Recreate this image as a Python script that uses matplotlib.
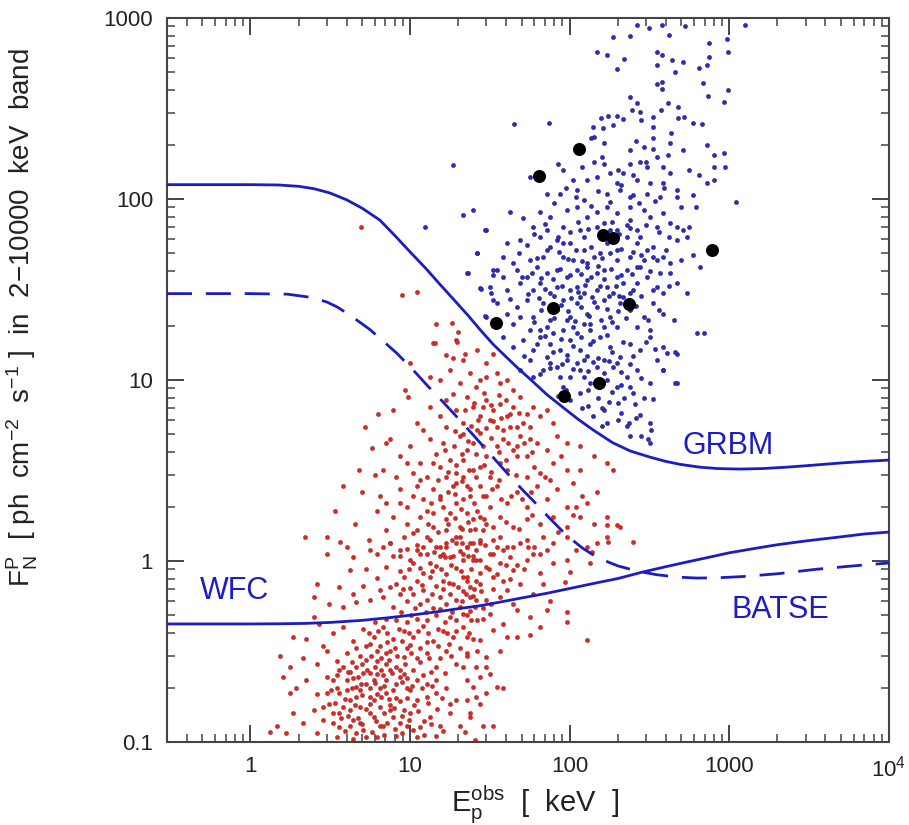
import matplotlib

matplotlib.use("Agg")

import matplotlib.pyplot as plt
import numpy as np
from matplotlib.ticker import FixedLocator, NullFormatter

plt.rcParams["font.family"] = ["Liberation Sans", "DejaVu Sans"]
plt.rcParams["mathtext.default"] = "regular"

# detection threshold curves
grbm_x = [0.3, 1.0, 1.5, 2.0, 2.5, 3.14, 4.0, 5.0, 6.46, 8.0, 10, 12.5, 15.5, 19, 23, 27.4, 33, 40,
          48, 58, 72, 90, 112, 140, 186, 240, 318, 400, 490, 650, 850, 1167, 1600, 2300, 3300,
          5000, 7000, 10000]
grbm_y = [120, 120, 119.5, 117.5, 114, 108, 99, 89, 76.5, 63, 51, 41.5, 33.5, 27.5, 22.8, 19.0,
          15.8, 13.4, 11.5, 9.9, 8.3, 7.1, 6.1, 5.3, 4.5, 4.05, 3.75, 3.55, 3.42, 3.3, 3.24, 3.22,
          3.24, 3.3, 3.38, 3.48, 3.55, 3.61]

batse_x = [0.3, 1.0, 1.7, 2.4, 3.0, 3.5, 4.3, 5.6, 7.0, 8.3, 10.5, 13, 16, 20.5, 26, 33, 40.5, 50,
           60, 75, 96, 120, 150, 200, 264, 350, 470, 627, 850, 1200, 2000, 3500, 6000, 10000]
batse_y = [30, 30, 29.8, 28.6, 27, 25.3, 22.5, 19.0, 16.0, 14.0, 11.3, 9.2, 7.6, 6.0, 4.75, 3.75,
           3.06, 2.5, 2.12, 1.72, 1.38, 1.18, 1.04, 0.94, 0.88, 0.84, 0.815, 0.805, 0.808, 0.82,
           0.85, 0.9, 0.94, 0.975]

wfc_x = [0.3, 1.0, 1.5, 2.2, 3.2, 5, 7.5, 10.3, 15, 20, 27.4, 35.5, 50, 70, 100, 150, 200, 288,
         400, 550, 750, 1000, 1500, 2000, 3000, 5000, 7000, 10000]
wfc_y = [0.449, 0.449, 0.45, 0.452, 0.458, 0.47, 0.487, 0.503, 0.525, 0.545, 0.566, 0.59, 0.625,
         0.66, 0.705, 0.76, 0.8, 0.87, 0.93, 0.99, 1.05, 1.11, 1.18, 1.23, 1.29, 1.36, 1.41, 1.445]

# bursts detected in both instruments
black_x = [34.5, 64, 114, 78.5, 161, 186, 778, 235, 152, 92]
black_y = [20.6, 134, 189, 25, 63, 61, 52, 26.3, 9.6, 8.2]

# bursts below the GRBM threshold (red)
red_pts = [
    (3.63, 1.28), (5.6, 1.15), (3.0, 1.1), (6.8, 1.19), (7.8, 1.06), (9.5, 1.16), (11, 1.23), (12.7, 1.1),
    (14.6, 1.2), (17.8, 1.05), (20.5, 1.14), (23.7, 1.26), (26, 1.01), (7.1, 0.93), (8.6, 0.88), (10.5, 0.97),
    (12.1, 0.86), (14.6, 0.94), (16.9, 0.85), (19.5, 0.92), (22.6, 0.82), (4.2, 0.89), (5.3, 0.9), (6.2, 0.81),
    (2.6, 0.75), (2.5, 0.63), (3.6, 0.72), (4.4, 0.66), (5.1, 0.73), (8.2, 0.75), (10, 0.71), (12.1, 0.69),
    (14.6, 0.73), (17.8, 0.66), (21.5, 0.68), (24.9, 0.64), (3.1, 0.58), (3.8, 0.56), (4.6, 0.59), (5.6, 0.61),
    (6.8, 0.63), (7.8, 0.56), (9.5, 0.6), (11.5, 0.58), (14, 0.55), (16.9, 0.58), (20.5, 0.56), (23.7, 0.53),
    (26, 0.61), (1.85, 0.38), (2.24, 0.37), (2.86, 0.34), (3.3, 0.4), (3.8, 0.43), (4.4, 0.36), (5.1, 0.42),
    (5.9, 0.38), (6.8, 0.43), (7.8, 0.37), (9.1, 0.41), (10.5, 0.38), (12.1, 0.44), (14, 0.36), (16.1, 0.41),
    (18.6, 0.38), (21.5, 0.43), (24.9, 0.37), (2.7, 0.45), (2.5, 0.49), (8.2, 0.47), (11, 0.48), (17.8, 0.49),
    (22.6, 0.5), (1.53, 0.3), (1.77, 0.26), (2.14, 0.29), (2.6, 0.27), (3.0, 0.32), (3.5, 0.28), (4.0, 0.31),
    (4.6, 0.26), (5.3, 0.34), (6.2, 0.28), (7.1, 0.31), (8.2, 0.26), (9.5, 0.33), (11, 0.29), (12.7, 0.31),
    (14.6, 0.26), (16.9, 0.32), (19.5, 0.27), (22.6, 0.3), (26, 0.26), (3.6, 0.25), (4.85, 0.3), (7.5, 0.25),
    (4.2, 0.245), (5.6, 0.24), (1.6, 0.23), (1.94, 0.2), (2.24, 0.22), (2.6, 0.185), (3.0, 0.23), (3.5, 0.2),
    (4.0, 0.22), (4.6, 0.178), (5.3, 0.21), (6.2, 0.185), (7.1, 0.22), (8.2, 0.176), (9.5, 0.2), (11, 0.17),
    (12.7, 0.21), (14.6, 0.187), (16.9, 0.2), (19.5, 0.17), (22.6, 0.22), (26, 0.178), (1.77, 0.186),
    (3.1, 0.163), (4.2, 0.17), (5.6, 0.163), (7.5, 0.16), (3.6, 0.186), (4.85, 0.194), (6.5, 0.2),
    (1.46, 0.122), (1.85, 0.144), (2.14, 0.127), (2.5, 0.15), (2.86, 0.132), (3.3, 0.144), (3.6, 0.121),
    (4.2, 0.15), (4.85, 0.127), (5.6, 0.145), (6.5, 0.122), (7.5, 0.15), (8.6, 0.127), (10, 0.144),
    (11.5, 0.121), (13.3, 0.138), (15.4, 0.122), (17.8, 0.145), (20.5, 0.123), (23.7, 0.138), (2.6, 0.112),
    (3.5, 0.107), (4.6, 0.112), (6.2, 0.106), (8.2, 0.108), (11, 0.106), (14.6, 0.108), (1.68, 0.112),
    (1.32, 0.114), (4.4, 0.225), (5.1, 0.24), (5.9, 0.22), (6.8, 0.235), (4.85, 0.157), (5.6, 0.178),
    (6.5, 0.156), (4.0, 0.193), (5.3, 0.285), (6.2, 0.32), (7.1, 0.27), (8.6, 0.23), (3.8, 0.26), (7.5, 0.32),
    (9.1, 0.295), (6.2, 1.1), (7.5, 1.25), (8.6, 1.06), (10, 1.01), (11.5, 1.1), (13.3, 0.97), (15.4, 1.06),
    (16.9, 1.2), (19.5, 1.25), (21.5, 1.01), (18.6, 0.75), (16.1, 0.78), (13.3, 0.82), (11, 0.78), (9.1, 0.82),
    (7.5, 0.72), (6.5, 0.69), (8.6, 0.66), (10.5, 0.66), (12.7, 0.61), (15.4, 0.635), (19.5, 0.61),
    (23.7, 0.72), (26, 0.78), (21.5, 0.82), (3.0, 0.186), (3.3, 0.127), (3.8, 0.157), (4.4, 0.132),
    (5.1, 0.117), (5.9, 0.138), (6.8, 0.122), (7.8, 0.138), (9.1, 0.15), (9.5, 0.122), (7.1, 0.186),
    (8.2, 0.21), (6.2, 0.239), (4.6, 0.202), (3.3, 0.22), (2.86, 0.157), (4.2, 0.122), (5.3, 0.107),
    (3.6, 0.144), (10, 0.194), (11, 0.22), (12.7, 0.178), (14.6, 0.22), (17.8, 0.163), (9.1, 0.239),
    # dense soft/faint blob, second pass
    (3.9, 0.115), (4.4, 0.104), (5.0, 0.125), (5.8, 0.113), (6.9, 0.109), (7.2, 0.128), (8.0, 0.118),
    (8.9, 0.112), (10.5, 0.116), (12.2, 0.11), (13.5, 0.125), (16, 0.115), (3.7, 0.135), (4.1, 0.14),
    (4.7, 0.136), (5.3, 0.152), (6.1, 0.13), (6.9, 0.145), (7.9, 0.155), (8.9, 0.14), (9.8, 0.132),
    (11.2, 0.148), (12.3, 0.13), (14.8, 0.152), (3.4, 0.165), (3.9, 0.172), (4.5, 0.16), (5.0, 0.182),
    (5.9, 0.17), (6.6, 0.178), (7.4, 0.172), (8.6, 0.168), (9.6, 0.176), (10.6, 0.16), (13.0, 0.165),
    (15.8, 0.175), (3.2, 0.195), (4.3, 0.2), (4.9, 0.21), (5.6, 0.198), (6.0, 0.212), (6.9, 0.205),
    (7.8, 0.195), (8.9, 0.215), (10.3, 0.205), (11.8, 0.2), (13.8, 0.205), (3.5, 0.235), (4.1, 0.245),
    (4.7, 0.23), (5.4, 0.25), (6.0, 0.26), (6.6, 0.25), (7.7, 0.24), (8.7, 0.25), (9.6, 0.225), (10.5, 0.25),
    (12.0, 0.235), (13.5, 0.245), (16.5, 0.24), (4.3, 0.275), (5.0, 0.27), (5.7, 0.3), (6.6, 0.29),
    (7.4, 0.285), (8.3, 0.3), (9.3, 0.27), (10.2, 0.31), (11.6, 0.275), (13.2, 0.29), (15.5, 0.29), (18, 0.3),
    (4.6, 0.33), (5.6, 0.35), (6.5, 0.34), (7.2, 0.355), (8.0, 0.33), (8.9, 0.36), (10.0, 0.345), (11.5, 0.33),
    (12.8, 0.355), (15.0, 0.34), (17.5, 0.35), (20.5, 0.33), (5.5, 0.4), (6.3, 0.41), (7.2, 0.4), (8.5, 0.42),
    (9.8, 0.4), (11.2, 0.41), (13, 0.4), (15, 0.42), (17, 0.4), (19.5, 0.41), (23.5, 0.4), (6.0, 0.46),
    (7.1, 0.48), (9.5, 0.46), (10.2, 0.5), (12.8, 0.47), (14.5, 0.5), (16.5, 0.46), (19.5, 0.47), (24, 0.47),
    (28.5, 0.48),
    # 20-300 keV, faint end
    (22.6, 1.2), (27.4, 1.25), (33.2, 1.1), (40.3, 1.2), (48.8, 1.25), (59.2, 1.1), (71.7, 1.15), (24.9, 1.01),
    (30.1, 0.93), (36.6, 0.97), (44.3, 0.89), (53.7, 1.01), (65.2, 0.855), (78.9, 0.97), (95.7, 1.01),
    (110, 1.15), (134, 0.97), (148, 1.25), (22.6, 0.78), (27.4, 0.75), (33.2, 0.82), (40.3, 0.69), (48.8, 0.75),
    (59.2, 0.66), (68.4, 0.75), (23.7, 0.635), (30.1, 0.61), (36.6, 0.635), (44.3, 0.58), (21.5, 0.51),
    (26.1, 0.47), (31.6, 0.51), (38.4, 0.45), (46.5, 0.535), (56.4, 0.49), (65.2, 0.43), (71.7, 0.535),
    (95.7, 0.52), (95.7, 0.46), (22.6, 0.38), (27.4, 0.366), (33.2, 0.415), (40.3, 0.38), (46.5, 0.38),
    (56.4, 0.39), (128, 0.366), (22.6, 0.31), (26.1, 0.32), (30.1, 0.296), (36.6, 0.32), (21.5, 0.26),
    (27.4, 0.23), (31.6, 0.239), (30.1, 0.26), (24.9, 0.202), (30.1, 0.186), (34.8, 0.202), (38.4, 0.198),
    (22.6, 0.17), (27.4, 0.163), (23.7, 0.144), (33.2, 0.122), (28.7, 0.122), (22, 0.114), (25.5, 0.103),
    (250, 1.27), (197, 1.58), (170, 1.58), (138, 1.12), (174, 1.27), (93, 0.77), (75.2, 0.6), (100, 0.87),
    # 1-20 ph/cm2/s
    (14.0, 16.0), (16.9, 13.7), (19.5, 16.6), (21.5, 12.9), (26.1, 14.7), (30.1, 12.4), (33.2, 14.0),
    (17.8, 11.4), (15.4, 10.0), (23.7, 10.9), (27.4, 10.0), (34.8, 10.9), (40.3, 10.0), (10.0, 12.4),
    (9.3, 8.8), (9.7, 8.1), (7.8, 6.8), (13.3, 10.4), (20.5, 9.6), (18.6, 8.4), (44.3, 8.8), (36.6, 9.6),
    (11.0, 5.8), (13.3, 7.1), (15.4, 6.3), (16.9, 7.8), (19.5, 6.8), (22.6, 8.1), (24.9, 7.1), (27.4, 6.3),
    (30.1, 7.8), (33.2, 6.8), (36.6, 7.4), (40.3, 6.3), (44.3, 7.1), (48.8, 8.1), (53.7, 6.5), (59.2, 7.1),
    (65.2, 6.3), (71.7, 6.8), (78.9, 5.8), (16.9, 5.5), (21.5, 5.8), (26.1, 5.3), (34.8, 5.5), (46.5, 5.5),
    (56.4, 5.5), (12.1, 5.3), (7.5, 4.7), (7.1, 4.5), (8.6, 3.8), (10.0, 4.3), (11.5, 3.5), (13.3, 4.7),
    (14.6, 3.9), (16.1, 4.5), (17.8, 3.6), (20.5, 4.9), (22.6, 4.1), (24.9, 4.5), (27.4, 5.1), (30.1, 3.8),
    (34.8, 4.3), (38.4, 4.7), (44.3, 4.1), (48.8, 4.9), (53.7, 3.8), (62.1, 4.5), (71.7, 4.1), (82.8, 4.9),
    (95.7, 4.5), (116, 4.3), (141, 3.8), (170, 3.5), (188, 3.2), (116, 3.2), (95.7, 3.2), (78.9, 3.5),
    (65.2, 3.05), (53.7, 2.9), (40.3, 3.2), (31.6, 2.9), (24.9, 3.2), (19.5, 3.05), (15.4, 3.3), (12.7, 2.9),
    (10.5, 3.05), (8.2, 2.9), (7.1, 2.1), (8.6, 2.5), (9.5, 2.0), (11.0, 2.6), (12.1, 2.2), (14.0, 2.5),
    (16.1, 2.0), (18.6, 2.6), (21.5, 2.2), (23.7, 2.5), (26.1, 1.9), (30.1, 2.3), (34.8, 2.6), (40.3, 2.1),
    (46.5, 2.4), (53.7, 2.0), (62.1, 2.6), (71.7, 2.2), (82.8, 2.5), (95.7, 2.0), (105, 2.7), (128, 2.1),
    (148, 2.4), (170, 1.76), (141, 1.6), (116, 1.76), (95.7, 1.55), (78.9, 1.76), (65.2, 1.6), (53.7, 1.7),
    (44.3, 1.55), (36.6, 1.76), (30.1, 1.6), (24.9, 1.7), (20.5, 1.55), (16.9, 1.7), (14.0, 1.55),
    (11.5, 1.76), (9.5, 1.6), (7.8, 1.76), (7.5, 1.25), (9.1, 1.36), (11.0, 1.15), (13.3, 1.31), (16.1, 1.1),
    (19.5, 1.36), (22.6, 1.2), (27.4, 1.31), (31.6, 1.1), (36.6, 1.36), (44.3, 1.2), (53.7, 1.31), (65.2, 1.1),
    (78.9, 1.25), (95.7, 1.36), (128, 1.2), (170, 1.36), (207, 1.55), (10.5, 1.42), (16.9, 1.25), (24.9, 1.06),
    (34.8, 1.2), (19.5, 2.7), (21.5, 2.9), (23.7, 2.3), (27.4, 2.6), (22.6, 1.83), (19.5, 2.1), (27.4, 1.76),
    (23.7, 1.48), (20.5, 1.36), (28.7, 1.48), (17.8, 1.83), (31.6, 2.0), (24.9, 1.25), (21.5, 1.1),
    (18.6, 1.06), (27.4, 1.01), (15.4, 1.2), (16.9, 1.48), (14.0, 1.83), (12.7, 1.36), (28.7, 7.1),
    (31.6, 6.0), (38.4, 5.3), (42.3, 6.5), (51.2, 5.8), (46.5, 4.3), (56.4, 4.7), (36.6, 3.5), (27.4, 3.3),
    (21.5, 3.6), (16.9, 2.9), (14.0, 3.5), (11.5, 2.8), (9.5, 3.5), (8.6, 2.1), (10.5, 2.3), (12.7, 1.9),
    (15.4, 2.3), (11.0, 1.48), (8.6, 1.15), (7.1, 1.48), (6.5, 2.3), (6.8, 3.2),
    # diagonal band, second pass
    (8.8, 0.52), (10.8, 0.55), (12.5, 0.52), (15.5, 0.54), (18.2, 0.52), (21.2, 0.6), (25.5, 0.56),
    (28.5, 0.55), (32, 0.58), (9.0, 0.7), (11.8, 0.74), (13.8, 0.66), (16.0, 0.7), (17.5, 0.76), (20.0, 0.72),
    (22.5, 0.66), (25, 0.7), (28, 0.68), (33, 0.7), (38, 0.78), (9.8, 0.9), (11.5, 0.92), (13.8, 0.88),
    (15.6, 0.9), (18.0, 0.95), (20.8, 0.88), (24.2, 0.9), (27.5, 0.86), (31, 0.9), (35, 0.85), (40, 0.95),
    (47, 0.95), (12.0, 1.2), (14.2, 1.12), (16.5, 1.05), (18.2, 1.3), (21, 1.25), (23, 1.06), (25.8, 1.15),
    (29.5, 1.22), (33, 1.3), (38, 1.15), (42, 1.05), (55, 1.2), (13.0, 1.6), (15.0, 1.45), (17.2, 1.6),
    (19.0, 1.72), (21.0, 1.5), (23.0, 1.65), (25.5, 1.5), (29, 1.7), (33, 1.55), (40, 1.65), (48, 1.5),
    (58, 1.8), (13.5, 2.1), (15.3, 2.2), (17.3, 2.4), (19.2, 2.35), (20.8, 1.95), (22.6, 2.6), (25.2, 2.1),
    (28.8, 2.3), (32.5, 2.5), (37, 2.2), (43, 2.3), (50, 2.2), (57, 2.4), (15, 2.8), (17.3, 3.1), (19.5, 3.4),
    (21.2, 2.75), (23.5, 3.2), (26, 2.9), (29, 3.4), (32, 3.1), (36, 2.8), (40, 3.6), (46, 3.0), (60, 3.3),
    (70, 2.9), (16.5, 4.1), (18.8, 4.3), (21.0, 3.9), (23.0, 4.6), (25.8, 3.9), (28.8, 4.3), (32.0, 4.8),
    (36.0, 4.0), (41, 4.5), (47, 3.8), (52, 4.5), (58, 4.0), (19, 5.2), (21.5, 5.0), (24.0, 5.6), (26.5, 6.0),
    (30, 5.4), (33, 5.9), (37, 6.2), (42, 5.5), (48, 6.6), (22, 6.8), (25, 7.5), (29, 8.5), (32, 7.3),
    (36, 8.3), (40, 7.8), (26, 9.2), (30, 10.4), (42, 0.8), (52, 0.9), (60, 1.2), (68, 1.35), (85, 1.45),
    (105, 1.8), (120, 2.3), (75, 2.8), (88, 3.8), (110, 2.0),
    # sparse soft/faint corner and stragglers
    (3.0, 1.35), (3.4, 1.9), (4.0, 1.2), (4.5, 1.6), (5.0, 2.4), (5.5, 1.3), (6.0, 3.0), (5.8, 4.2),
    (4.8, 3.2), (3.8, 2.6), (6.2, 1.9), (5.2, 5.5), (6.3, 6.5), (4.4, 1.05), (2.2, 1.36), (4.9, 70),
    (8.9, 29.5), (11, 30.6), (14.5, 20.4), (18.3, 20.7), (20, 18.4), (19.6, 16.2), (14.4, 16), (18.6, 13.3),
    (22, 14),
]

# bursts above the GRBM threshold (blue)
blue_pts = [
    (141, 221), (163, 203), (239, 186), (290, 194), (351, 171), (426, 203), (515, 186), (722, 198),
    (796, 175), (919, 179), (85, 157), (91, 145), (141, 161), (163, 157), (179, 139), (239, 157), (276, 161),
    (304, 151), (386, 151), (426, 139), (796, 151), (942, 151), (796, 127), (722, 122), (56.4, 133),
    (105, 127), (128, 127), (148, 133), (197, 122), (217, 139), (263, 127), (319, 122), (386, 122), (469, 112),
    (596, 105), (71.8, 107), (86.9, 107), (111, 112), (122, 98.7), (171, 107), (207, 112), (239, 103),
    (304, 107), (368, 103), (469, 103), (1100, 96.6), (21.5, 81.5), (24.9, 86.9), (42.3, 85.1), (51.2, 78.2),
    (65.2, 85.1), (75.2, 79.8), (95.7, 86.9), (111, 90.6), (128, 79.8), (148, 85.1), (163, 73.3), (197, 83.2),
    (239, 76.5), (290, 86.9), (319, 79.8), (386, 83.2), (426, 73.3), (515, 67.3), (30.1, 67.3), (59.2, 70.3),
    (71.8, 67.3), (91.2, 70.3), (116, 67.3), (197, 67.3), (239, 68.9), (351, 70.3), (469, 70.3), (26.1, 50.1),
    (40.3, 56.9), (48.8, 59.3), (53.7, 55.7), (65.2, 61.9), (75.2, 54.5), (82.8, 59.3), (100, 56.9),
    (122, 52.2), (141, 48.0), (171, 56.9), (197, 52.2), (228, 61.9), (263, 56.9), (304, 52.2), (334, 54.5),
    (386, 48.0), (469, 59.3), (541, 61.9), (596, 49.0), (656, 42.3), (38.4, 48.0), (44.3, 44.1), (56.4, 46.0),
    (68.4, 48.0), (91.2, 48.0), (105, 46.0), (128, 44.1), (155, 50.1), (197, 46.0), (239, 48.0), (290, 46.0),
    (351, 46.0), (426, 44.1), (22.6, 38.8), (27.4, 32.1), (33.2, 40.5), (38.4, 37.2), (46.5, 40.5),
    (53.7, 37.2), (62.1, 42.3), (71.8, 38.8), (82.8, 32.8), (95.7, 37.2), (111, 40.5), (128, 35.7),
    (148, 38.8), (171, 32.8), (197, 37.2), (228, 40.5), (263, 34.2), (304, 37.2), (351, 32.8), (426, 38.8),
    (469, 34.2), (541, 30.1), (31.6, 32.8), (40.3, 31.4), (48.8, 34.2), (59.2, 31.4), (100, 31.4), (122, 30.1),
    (148, 31.4), (188, 30.1), (239, 30.1), (386, 30.1), (30.1, 22.4), (34.8, 26.5), (40.3, 23.3), (46.5, 25.4),
    (53.7, 27.6), (59.2, 22.4), (68.4, 26.5), (82.8, 24.3), (95.7, 21.4), (111, 26.5), (128, 23.3),
    (148, 25.4), (179, 22.4), (207, 26.5), (239, 24.3), (290, 22.4), (334, 26.5), (386, 23.3), (447, 21.4),
    (44.3, 20.5), (71.8, 19.7), (105, 19.7), (134, 20.5), (163, 19.7), (197, 19.7), (263, 19.7), (319, 18.9),
    (625, 18.2), (689, 18.2), (38.4, 17.3), (44.3, 15.3), (51.2, 16.6), (59.2, 14.6), (65.2, 17.3),
    (75.2, 15.9), (86.9, 14.6), (100, 16.6), (116, 14.6), (134, 15.9), (155, 17.3), (179, 15.3), (207, 13.4),
    (239, 15.9), (276, 14.6), (319, 17.3), (351, 12.9), (386, 15.3), (469, 14.0), (56.4, 12.9), (71.8, 13.4),
    (95.7, 12.9), (122, 12.9), (163, 12.9), (197, 12.4), (48.8, 11.4), (59.2, 10.4), (68.4, 11.4),
    (82.8, 11.8), (100, 10.4), (116, 11.4), (134, 9.6), (163, 10.9), (188, 11.8), (228, 10.4), (263, 11.4),
    (319, 9.6), (386, 11.4), (469, 9.6), (91.2, 9.2), (197, 9.2), (239, 9.2), (65.2, 18.9), (78.9, 18.2),
    (91.2, 18.9), (111, 18.2), (134, 18.9), (75.2, 12.4), (111, 12.4), (148, 11.8), (86.9, 10.4), (122, 10.4),
    (171, 10.0), (100, 22.4), (122, 20.5), (75.2, 21.4), (56.4, 18.9), (48.8, 22.4), (91.2, 27.6),
    (116, 28.9), (163, 27.6), (217, 28.9), (75.2, 30.1), (65.2, 34.2), (111, 32.8), (217, 34.2), (82.8, 40.5),
    (128, 42.3), (163, 40.5), (263, 42.3), (179, 67.3), (122, 61.9), (91.2, 56.9), (148, 70.3), (263, 67.3),
    (239, 90.6), (171, 90.6), (18.5, 154), (29.6, 67), (45, 259), (74, 262), (12.4, 70), (26.2, 50.5),
    (22.9, 39), (33, 38), (34.8, 40.7), (32, 30.3), (27.8, 31.8), (29.4, 22.6), (33, 27.7),
    # core, second pass
    (52, 13.5), (62, 15.8), (70, 17.5), (78, 14.2), (88, 16.8), (96, 13.8), (105, 15.5), (118, 17.2),
    (128, 13.5), (140, 16.5), (150, 13.2), (170, 17.8), (185, 14.2), (215, 16.2), (250, 13.5), (300, 16.2),
    (340, 14.8), (60, 21), (66, 24.5), (80, 22), (88, 25.8), (98, 24), (108, 21.3), (118, 25.2), (132, 22.5),
    (142, 27), (158, 21.5), (170, 24.8), (185, 21), (200, 24), (225, 22), (260, 25.5), (310, 21.5),
    (360, 24.5), (42, 28), (55, 30), (64, 28.5), (70, 32), (80, 29), (90, 33), (102, 28.5), (112, 30.5),
    (125, 33.5), (138, 28.8), (155, 33), (175, 29), (195, 33), (205, 29), (250, 31.5), (280, 29), (330, 31.5),
    (420, 33), (50, 37), (58, 39), (66, 36.5), (78, 36), (87, 41), (100, 38), (118, 38.5), (135, 37),
    (150, 42.5), (165, 36), (182, 41), (210, 38), (245, 38.5), (275, 42), (320, 40), (370, 39), (48, 50),
    (62, 47), (72, 52), (86, 51), (97, 46.5), (110, 52), (120, 45.5), (135, 54), (160, 47), (180, 50),
    (210, 53), (250, 51), (280, 49), (330, 48), (400, 52), (500, 46), (60, 64), (70, 73), (85, 62), (100, 66),
    (112, 75), (130, 68), (155, 62), (185, 75), (205, 64), (230, 72), (275, 62), (300, 72), (360, 66),
    (420, 62), (560, 70), (80, 95), (95, 115), (110, 102), (135, 92), (150, 110), (180, 96), (210, 120),
    (250, 105), (270, 95), (340, 98), (390, 115), (500, 90), (620, 90), (65, 10.8), (75, 11.6), (90, 12.2),
    (105, 11.5), (130, 11.2), (140, 12.5), (175, 12.8), (210, 11.1), (240, 12.2), (280, 10.2), (210, 9.4),
    (150, 10.0), (120, 150), (160, 170), (200, 145), (250, 135), (300, 160), (260, 210), (330, 190),
    (410, 175), (560, 145), (650, 135),
    # near the threshold
    (116, 8.5), (130, 7.2), (150, 8.0), (165, 6.8), (185, 8.6), (210, 6.6), (235, 5.8), (255, 7.4),
    (275, 6.4), (457, 9.6), (385, 11.3), (406, 14.1), (457, 14.3), (332, 7.9), (318, 5.8), (325, 5.3),
    (280, 4.9), (310, 4.7), (318, 4.5), (230, 5.6), (200, 6.0), (172, 5.8), (160, 5.6), (140, 6.3),
    (100, 7.8), (85, 8.2), (120, 7.0), (250, 8.5), (290, 8.0), (200, 7.5), (175, 7.6), (95, 8.8), (130, 8.8),
    (160, 7.0), (220, 8.0), (260, 6.2), (240, 4.9),
    # bright tail
    (148, 650), (186, 785), (240, 795), (265, 915), (313, 880), (380, 915), (420, 805), (525, 905),
    (750, 727), (970, 765), (980, 650), (1260, 915), (220, 593), (198, 523), (171, 624), (350, 650),
    (380, 624), (350, 550), (440, 587), (510, 570), (455, 503), (750, 610), (650, 530), (720, 550),
    (350, 432), (380, 443), (380, 405), (680, 437), (740, 370), (930, 344), (980, 400), (240, 366),
    (265, 340), (245, 310), (275, 302), (410, 340), (475, 322), (375, 310), (330, 284), (475, 280),
    (520, 284), (590, 263), (670, 260), (280, 273), (215, 276), (198, 288), (174, 288), (158, 280),
    (187, 256), (161, 247), (140, 250), (136, 218), (330, 250), (330, 218), (430, 231),
]

x_ticks = [1, 10, 100, 1000, 10000]
x_labels = ["1", "10", "100", "1000", "10$^4$"]
y_ticks = [0.1, 1, 10, 100, 1000]
y_labels = ["0.1", "1", "10", "100", "1000"]

line_blue = "#1c1cc4"

fig = plt.figure(figsize=(9.09, 8.25), dpi=100)
ax = fig.add_axes([0.1837, 0.1006, 0.7943, 0.8776])

red = np.array(red_pts)
blue = np.array(blue_pts)
ax.scatter(red[:, 0], red[:, 1], s=9, c="#e8231c", edgecolors="#8a3030", linewidths=0.35, zorder=2)
ax.scatter(blue[:, 0], blue[:, 1], s=9, c="#2a2ad0", edgecolors="#20205a", linewidths=0.35, zorder=2)

ax.plot(grbm_x, grbm_y, color=line_blue, lw=2.0, zorder=3)
ax.plot(wfc_x, wfc_y, color=line_blue, lw=2.0, zorder=3)
ax.plot(batse_x, batse_y, color=line_blue, lw=2.0, dashes=(9, 5), zorder=3)

ax.scatter(black_x, black_y, s=70, c="black", zorder=4)

ax.text(512, 3.9, "GRBM", color=line_blue, fontsize=22)
ax.text(0.48, 0.617, "WFC", color=line_blue, fontsize=22)
ax.text(1038, 0.484, "BATSE", color=line_blue, fontsize=22)

ax.set_xscale("log")
ax.set_yscale("log")
ax.set_xlim(0.3, 1e4)
ax.set_ylim(0.1, 1000)

ax.xaxis.set_major_locator(FixedLocator(x_ticks))
ax.set_xticklabels(x_labels)
ax.yaxis.set_major_locator(FixedLocator(y_ticks))
ax.set_yticklabels(y_labels)
minors = [m * 10.0 ** e for e in range(-2, 5) for m in range(2, 10)]
ax.xaxis.set_minor_locator(FixedLocator(minors))
ax.yaxis.set_minor_locator(FixedLocator(minors))
ax.xaxis.set_minor_formatter(NullFormatter())
ax.yaxis.set_minor_formatter(NullFormatter())

ax.tick_params(which="both", direction="in", top=True, right=True, colors="#444444", labelcolor="#222222")
ax.tick_params(which="major", length=12, width=1.4, labelsize=16, pad=10)
ax.tick_params(which="minor", length=6, width=1.1)
for sp in ax.spines.values():
    sp.set_linewidth(1.5)
    sp.set_color("#444444")

fig.text(535 / 909, 1 - 812 / 825, r"E$_p^{obs}$  [  keV  ]", fontsize=21, color="#222222",
         ha="center", va="baseline")
fig.text(22 / 909, 1 - 318 / 825,
         r"F$_N^P$  [ ph  cm$^{-2}$  s$^{-1}$ ]  in  2$-$10000  keV  band",
         fontsize=20, color="#222222", rotation=90, ha="center", va="center")

plt.savefig("out.png", dpi=100)
plt.close()
